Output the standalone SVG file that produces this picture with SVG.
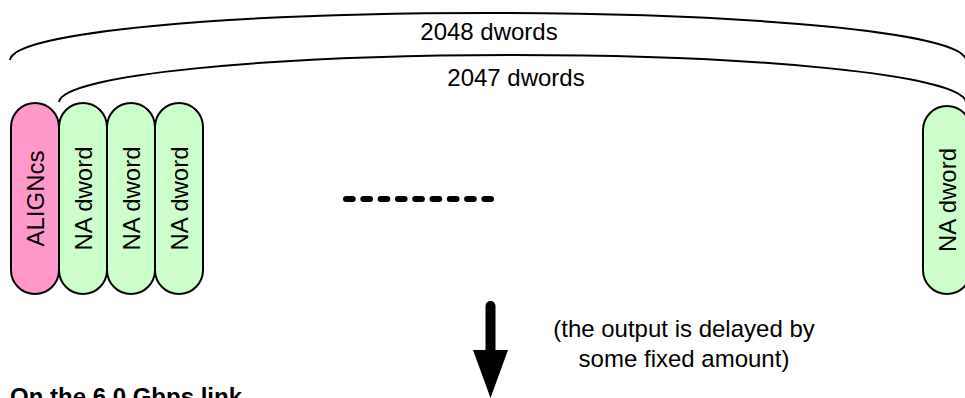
<svg xmlns="http://www.w3.org/2000/svg" width="965" height="398" viewBox="0 0 965 398">
  <style>
    .pill { stroke: #000; stroke-width: 2; }
    .align { fill: #ff99cc; }
    .na { fill: #ccffcc; }
    .lbl { font-family: "Liberation Sans", Arial, sans-serif; font-size: 24px; fill: #000; }
    .brace { fill: none; stroke: #000; stroke-width: 2; }
  </style>

  <!-- span braces, elision dashes and the output arrow -->
  <g id="connectors">
    <path class="brace" d="M10,60 C13,32 230,13 487,13 C745,13 962,32 966,60"/>
    <path class="brace" d="M59,102 C62,75 270,55 514,55 C758,55 962,75 966,102"/>
    <line x1="346" y1="199" x2="491" y2="199" stroke="#000" stroke-width="6" stroke-linecap="round" stroke-dasharray="6.7 10.6"/>
    <line x1="490.5" y1="306" x2="490.5" y2="350" stroke="#000" stroke-width="10" stroke-linecap="round"/>
    <path d="M473,350 L508,350 L490.5,398 Z" fill="#000"/>
  </g>

  <g id="align">
    <rect class="pill align" x="11" y="103" width="48" height="191" rx="24" ry="24"/>
    <text class="lbl" transform="translate(35,198.5) rotate(-90)" text-anchor="middle" dy="8.5">ALIGNcs</text>
  </g>
  <g id="na1">
    <rect class="pill na" x="59" y="103" width="48" height="191" rx="24" ry="24"/>
    <text class="lbl" transform="translate(83,198.5) rotate(-90)" text-anchor="middle" dy="8.5">NA dword</text>
  </g>
  <g id="na2">
    <rect class="pill na" x="107" y="103" width="48" height="191" rx="24" ry="24"/>
    <text class="lbl" transform="translate(131,198.5) rotate(-90)" text-anchor="middle" dy="8.5">NA dword</text>
  </g>
  <g id="na3">
    <rect class="pill na" x="155" y="103" width="48" height="191" rx="24" ry="24"/>
    <text class="lbl" transform="translate(179,198.5) rotate(-90)" text-anchor="middle" dy="8.5">NA dword</text>
  </g>
  <g id="na-last">
    <rect class="pill na" x="923" y="106" width="48" height="188" rx="24" ry="24"/>
    <text class="lbl" transform="translate(947,200) rotate(-90)" text-anchor="middle" dy="8.5">NA dword</text>
  </g>

  <g id="labels">
    <text class="lbl" x="489" y="40" text-anchor="middle">2048 dwords</text>
    <text class="lbl" x="516" y="86" text-anchor="middle">2047 dwords</text>
    <text class="lbl" x="684" y="337" text-anchor="middle">(the output is delayed by</text>
    <text class="lbl" x="684" y="367" text-anchor="middle">some fixed amount)</text>
    <text class="lbl" x="10" y="405" font-weight="bold" font-size="21">On the 6.0 Gbps link</text>
  </g>
</svg>
